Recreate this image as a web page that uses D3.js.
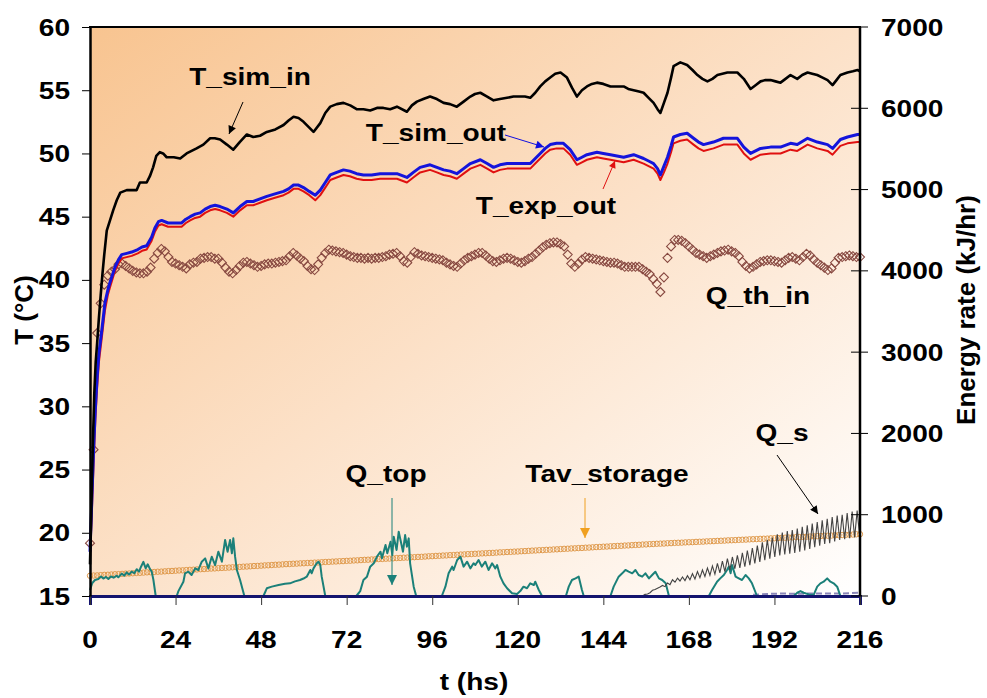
<!DOCTYPE html>
<html>
<head>
<meta charset="utf-8">
<script src="https://cdn.jsdelivr.net/npm/d3@7"></script>
<style>
  html, body { margin: 0; padding: 0; background: #ffffff; }
  svg { display: block; }
  text { font-family: "Liberation Sans", Arial, sans-serif; font-weight: bold; fill: #000; }
</style>
</head>
<body>
<svg id="chart" width="987" height="698"></svg>
<script>
// ---------- data ----------
const xTicks = [0, 24, 48, 72, 96, 120, 144, 168, 192, 216];
const leftTicks = [15, 20, 25, 30, 35, 40, 45, 50, 55, 60];
const rightTicks = [0, 1000, 2000, 3000, 4000, 5000, 6000, 7000];

// T_sim_in (°C) : [t (h), T]
const tSimIn = [
  [0,17.5],[0.4,22],[0.8,27],[1.2,31],[1.6,33.5],[2,35],[2.5,37],[3,38.8],[3.5,40.5],[4,42],[4.7,43.9],
  [5.5,44.6],[6.5,45.5],[7.5,46.3],[8.5,46.9],[10.3,47.1],[12,47.1],[13.1,47.1],[14,47.7],[15.9,47.7],
  [16.8,48.2],[17.7,48.9],[18.6,49.8],[19.6,50.1],[20.5,50.0],[21.5,49.7],[23.5,49.7],[25.3,49.6],
  [27.1,50.0],[28.5,50.2],[29.9,50.4],[31.8,50.7],[33.7,51.2],[35,51.2],[36.5,51.1],[38.4,50.7],
  [40.2,50.3],[42,50.9],[44,51.5],[45.8,51.3],[47.7,51.4],[49.6,51.7],[52,51.9],[54.3,52.25],
  [55.7,52.6],[57.1,52.9],[58.5,52.8],[59.9,52.5],[61.3,52.1],[62.7,51.7],[64.6,52.4],[66,53.2],
  [67.4,53.7],[69.2,53.9],[71.1,54.0],[73,53.8],[74.8,53.5],[76.7,53.5],[78.6,53.4],[80.5,53.6],
  [82.3,53.6],[84.2,53.5],[86.1,53.7],[88.9,53.3],[90.3,53.8],[91.7,54.1],[93.5,54.3],[95.4,54.5],
  [97.3,54.3],[99.2,54.0],[101,53.9],[102.9,53.7],[104.8,54.1],[106.7,54.5],[108,54.7],[109.5,54.8],
  [111.4,54.5],[113.2,54.2],[115,54.3],[117,54.4],[118.8,54.5],[120.7,54.5],[122,54.5],[123.5,54.4],
  [124.9,54.8],[126.3,55.3],[127.7,55.7],[129.1,56.0],[130.5,56.3],[132,56.4],[133.8,56.0],[135.2,55.2],
  [136.6,54.5],[138,55.0],[139.4,55.3],[140.8,55.5],[142.2,55.6],[144,55.5],[146,55.3],[148,55.3],
  [149.7,55.3],[151,55.1],[152.5,55.0],[154,54.9],[155.3,54.8],[156.7,54.4],[158.1,54.0],[159.2,53.5],
  [160,53.2],[161,54.0],[162,54.8],[163,56.0],[163.7,56.9],[165.6,57.2],[167.5,57.0],[169,56.6],
  [170.4,56.2],[171.8,55.9],[173.2,55.7],[174.6,55.9],[176,56.2],[177.4,56.3],[178.8,56.4],[180.2,56.4],
  [181.6,56.4],[183.4,55.9],[185.3,55.1],[186.7,55.4],[188.1,55.7],[189.5,55.8],[190.9,55.8],[192.3,55.7],
  [193.7,55.6],[195.1,55.9],[196.5,56.2],[198.4,55.9],[199.8,56.2],[201.3,56.4],[202.6,56.3],[204,56.2],
  [205.5,56.0],[206.9,55.8],[208.3,55.4],[209.4,55.8],[210.5,56.2],[211.5,56.3],[212.5,56.4],[214,56.5],
  [215.3,56.6],[216,56.5]
];

// common time base for the outlet temperatures (h)
const tOutTimes = [
  0,0.5,1,1.5,2,2.5,3.3,4.2,5,5.6,7,8,8.9,10.3,11.7,13.4,14.6,15.9,17.3,18.2,19.2,20.1,21.9,23.8,25.7,
  26.9,28.1,29.5,30.9,32.3,33.7,35.1,36.5,38.4,40.2,42.1,44,45.8,47.7,49.6,51.9,54.3,55.7,57.1,58.5,
  59.9,61.5,63.2,64.6,66,67.4,69.2,71.1,72.9,74.8,76.7,79,81.4,83.7,86.1,88.9,90.7,92.6,95.4,97.3,
  99.2,101,102.9,104.8,106.7,109.5,111.4,113.2,115,117,118.8,120.7,123.5,124.9,126.3,127.7,129.1,
  130.9,132.8,134.7,136.6,138,139.4,142.2,144,146,149.7,152.5,155.3,156.7,158.1,159.2,160,161,162,
  163,163.7,165.6,167.5,169.3,170.7,172.1,174.9,177.7,181.6,183.4,185.3,188.1,190.9,193.7,196.5,
  198.4,201.3,204,206.9,208.3,210.5,212.5,215.3,216
];
// T_sim_out (°C)
const tSimOut = [
  18.5,22.5,26.5,29.8,32.3,34.2,36.0,38.2,39.2,39.8,41.0,41.6,42.0,42.1,42.2,42.4,42.6,42.7,43.4,44.1,
  44.6,44.7,44.5,44.5,44.5,44.8,45.0,45.2,45.3,45.6,45.8,45.9,45.8,45.6,45.3,45.8,46.2,46.2,46.4,46.6,
  46.8,47.0,47.2,47.5,47.5,47.3,47.0,46.7,47.1,47.7,48.3,48.5,48.7,48.6,48.4,48.3,48.3,48.4,48.4,48.4,
  48.1,48.5,48.9,49.1,48.9,48.7,48.6,48.4,48.8,49.2,49.5,49.2,48.9,49.1,49.2,49.2,49.2,49.2,49.6,50.0,
  50.4,50.7,50.8,50.8,50.3,49.5,49.7,49.9,50.1,50.0,49.9,49.7,49.9,49.6,49.4,49.2,48.8,48.3,49.0,49.7,
  50.6,51.3,51.5,51.6,51.2,50.9,50.7,50.9,51.2,51.2,50.5,50.0,50.4,50.5,50.5,50.8,50.7,51.2,50.9,50.7,
  50.4,51.1,51.3,51.5,51.5
];
// T_exp_out (°C)
const tExpOut = [
  18.0,21.5,25.5,29.0,31.5,33.5,35.4,37.6,38.8,39.4,40.7,41.3,41.7,41.8,41.9,42.1,42.3,42.4,43.1,43.8,
  44.3,44.4,44.2,44.2,44.2,44.5,44.7,44.9,45.0,45.3,45.5,45.6,45.5,45.3,45.0,45.5,45.9,45.9,46.1,46.3,
  46.5,46.7,46.9,47.2,47.2,47.0,46.7,46.3,46.7,47.3,47.9,48.1,48.3,48.2,48.0,47.9,47.9,48.0,48.0,48.0,
  47.7,48.1,48.5,48.7,48.5,48.3,48.2,48.0,48.4,48.8,49.1,48.8,48.5,48.7,48.8,48.8,48.8,48.8,49.2,49.6,
  50.0,50.3,50.4,50.4,49.9,49.1,49.3,49.5,49.7,49.6,49.5,49.3,49.5,49.2,49.0,48.8,48.4,47.9,48.5,49.2,
  50.1,50.8,51.0,51.1,50.7,50.4,50.2,50.4,50.7,50.7,50.0,49.5,49.9,50.0,50.0,50.3,50.2,50.7,50.4,50.2,
  49.9,50.6,50.8,50.9,50.9
];

// Q_th_in (kJ/hr), hourly from t = 0 h
const qThIn = [
  650,1800,3235,3600,3830,3940,3990,4020,4080,4090,4060,4030,
  4000,3980,3970,3970,3990,4040,4150,4220,4270,4240,4170,4110,
  4090,4070,4050,4030,4080,4100,4110,4150,4160,4170,4170,4150,
  4150,4100,4040,3990,3970,4010,4060,4100,4110,4090,4070,4050,
  4060,4080,4090,4090,4100,4110,4120,4130,4180,4220,4190,4150,
  4120,4060,4020,4010,4080,4160,4220,4260,4250,4240,4230,4220,
  4200,4180,4170,4160,4160,4150,4160,4150,4160,4160,4170,4180,
  4200,4210,4220,4180,4120,4100,4170,4230,4210,4190,4180,4170,
  4160,4150,4140,4130,4100,4080,4060,4050,4090,4130,4160,4180,
  4200,4220,4220,4190,4150,4120,4110,4130,4150,4160,4150,4130,
  4110,4100,4120,4150,4170,4210,4250,4290,4320,4340,4350,4350,
  4330,4300,4200,4090,4050,4090,4140,4170,4160,4150,4140,4130,
  4120,4110,4100,4100,4090,4070,4050,4050,4050,4050,4050,4020,
  3990,3960,3900,3840,3740,3920,4160,4300,4380,4380,4370,4340,
  4300,4260,4220,4200,4180,4160,4180,4200,4220,4240,4250,4260,
  4240,4220,4180,4110,4060,4030,4050,4080,4110,4120,4130,4130,
  4120,4110,4100,4130,4160,4170,4150,4130,4170,4210,4190,4140,
  4100,4070,4040,4010,4030,4100,4160,4170,4180,4190,4180,4170,
  4170
];

// Tav_storage (°C), hourly from t = 0 h
const tavStorage = [
  16.60,16.62,16.63,16.65,16.67,16.68,16.70,16.72,16.73,16.75,16.77,16.78,
  16.80,16.82,16.83,16.85,16.87,16.88,16.90,16.92,16.93,16.95,16.97,16.98,
  17.00,17.02,17.03,17.05,17.07,17.08,17.10,17.12,17.13,17.15,17.17,17.18,
  17.20,17.22,17.23,17.25,17.27,17.28,17.30,17.32,17.33,17.35,17.37,17.38,
  17.40,17.42,17.43,17.45,17.47,17.48,17.50,17.52,17.53,17.55,17.56,17.58,
  17.59,17.61,17.62,17.64,17.65,17.67,17.69,17.70,17.72,17.73,17.75,17.76,
  17.78,17.79,17.81,17.82,17.84,17.86,17.87,17.89,17.90,17.92,17.93,17.95,
  17.96,17.98,18.00,18.01,18.03,18.04,18.06,18.07,18.09,18.10,18.12,18.14,
  18.15,18.17,18.18,18.20,18.21,18.23,18.24,18.26,18.28,18.29,18.31,18.32,
  18.34,18.35,18.37,18.38,18.40,18.41,18.43,18.45,18.46,18.48,18.49,18.51,
  18.52,18.54,18.55,18.57,18.59,18.60,18.62,18.63,18.65,18.66,18.68,18.69,
  18.71,18.73,18.74,18.76,18.77,18.79,18.80,18.82,18.83,18.85,18.87,18.88,
  18.90,18.91,18.93,18.94,18.96,18.97,18.99,19.00,19.02,19.04,19.05,19.07,
  19.08,19.10,19.11,19.13,19.14,19.15,19.17,19.18,19.20,19.21,19.22,19.24,
  19.25,19.26,19.28,19.29,19.30,19.32,19.33,19.34,19.36,19.37,19.38,19.40,
  19.41,19.42,19.44,19.45,19.46,19.48,19.49,19.50,19.52,19.53,19.54,19.56,
  19.57,19.58,19.60,19.61,19.62,19.64,19.65,19.66,19.68,19.69,19.70,19.72,
  19.73,19.74,19.76,19.77,19.78,19.80,19.81,19.82,19.84,19.85,19.86,19.88,
  19.89
];

// Q_top (kJ/hr) : [t (h), Q]
const qTop = [
  [0,74],[0.65,160],[1.4,197],[2.34,210],[3.09,240],[3.74,215],[4.49,235],[5.15,210],[5.89,240],[6.64,225],
  [7.49,250],[7.95,230],[8.89,275],[9.64,250],[10.29,290],[10.95,265],[11.7,300],[12.44,280],[13.1,330],
  [13.75,300],[14.32,360],[14.97,420],[15.63,340],[16.19,390],[16.84,330],[17.31,300],[17.78,200],[18.43,0],
  [24.33,0],[24.8,60],[26.2,176],[26.67,279],[27.6,299],[28.5,258],[29.5,340],[30.4,320],[31.35,422],
  [32.3,463],[33.2,340],[34.15,484],[35.1,381],[36.0,545],[37.0,422],[37.9,689],[38.6,545],[39.3,689],
  [39.8,525],[40.2,709],[40.7,484],[41.2,320],[42.1,197],[43.3,0],
  [48.65,0],[49.6,95],[51.0,115],[52.9,135],[54.7,150],[56.1,156],[57.5,180],[58.9,197],[59.9,215],
  [60.8,238],[61.8,320],[62.2,280],[62.7,340],[63.6,402],[64.1,422],[64.6,381],[65.0,238],[66.0,0],
  [74.7,0],[75.8,60],[76.7,197],[77.7,238],[78.6,361],[79.6,402],[80.5,484],[81.5,545],[81.9,463],
  [82.9,627],[83.4,525],[84.3,668],[84.8,505],[85.2,730],[86.0,566],[86.6,791],[87.1,689],[87.8,545],
  [88.4,750],[88.9,607],[89.4,709],[89.8,402],[90.8,115],[91.5,0],
  [98.7,0],[99.7,115],[100.6,279],[101.6,361],[102.0,320],[103.0,443],[103.9,484],[104.8,361],[105.8,422],
  [106.7,340],[107.6,402],[108.1,381],[109.0,443],[109.9,361],[110.9,422],[111.8,320],[112.8,402],
  [113.7,340],[114.2,381],[115.1,238],[116.0,156],[117.0,95],[118.4,33],[119.8,25],[120.7,60],[121.6,115],
  [122.6,95],[123.5,156],[124.5,135],[124.9,176],[125.9,74],[126.8,0],
  [133.5,0],[134.3,115],[135.2,197],[136.2,217],[137.1,238],[138.0,74],[138.5,0],
  [146.0,0],[146.9,115],[148.3,238],[149.3,279],[150.2,320],[151.1,299],[152.1,279],[153.0,320],[153.9,258],
  [154.9,238],[155.8,279],[156.8,217],[157.7,258],[158.6,299],[159.6,217],[160.5,197],[161.5,156],[162.4,0],
  [173.6,0],[174.5,74],[175.9,176],[176.8,217],[177.8,258],[178.7,320],[179.2,361],[179.7,279],[180.1,381],
  [181.1,238],[182.0,217],[182.9,197],[183.9,258],[184.8,217],[185.7,156],[187.1,0],
  [197.4,0],[198.4,40],[199.3,60],[200.2,40],[201.6,20],[203.0,15],[204.0,115],[204.9,156],[205.8,176],
  [206.8,217],[207.7,176],[208.6,156],[209.6,115],[210.5,0],[216,0]
];

// Q_s (kJ/hr), logged every 0.7 h from t = 155 h
const qsStart = 155, qsStep = 0.7;
const qS = [
  0,20,25,40,70,80,95,110,130,115,160,140,200,170,220,185,235,190,250,200,
  275,210,300,225,320,240,345,255,370,270,400,285,430,300,460,320,480,335,500,345,
  530,360,560,380,590,400,620,420,660,440,690,460,720,480,760,500,780,510,800,520,
  810,530,830,545,850,560,870,580,890,600,910,620,930,640,950,650,970,670,990,690,
  1000,700,1020,710,1040,720,1050,740
];

// auxiliary heat rate near zero (kJ/hr) : [t (h), Q]
const qAux = [[186,15],[190,25],[194,30],[198,28],[202,30],[206,32],[210,30],[213,35],[216,40]];

// ---------- layout ----------
const svg = d3.select("#chart");
const L = 90, R = 860, T = 27, B = 596;
const SX = 1.17; // horizontal stretch of the lettering

const x = d3.scaleLinear().domain([0, 216]).range([L, R]);
const yT = d3.scaleLinear().domain([15, 60]).range([B, T]);
const yE = d3.scaleLinear().domain([0, 7000]).range([B, T]);

const defs = svg.append("defs");
const grad = defs.append("linearGradient").attr("id", "bg")
  .attr("x1", 0).attr("y1", 0).attr("x2", 1).attr("y2", 1);
grad.append("stop").attr("offset", 0).attr("stop-color", "#f8c490");
grad.append("stop").attr("offset", 0.5).attr("stop-color", "#fce1c8");
grad.append("stop").attr("offset", 1).attr("stop-color", "#ffffff");

function marker(id, color, len, wid) {
  defs.append("marker").attr("id", id)
    .attr("viewBox", "0 0 10 10").attr("refX", 10).attr("refY", 5)
    .attr("markerUnits", "userSpaceOnUse")
    .attr("markerWidth", len).attr("markerHeight", wid)
    .attr("orient", "auto")
    .append("path").attr("d", "M0,0 L10,5 L0,10 Z").attr("fill", color);
}
marker("arBlack", "#000", 10, 8);
marker("arBlue", "#1010e0", 11, 8);
marker("arRed", "#e01010", 10, 7);
marker("arTeal", "#1b8079", 10, 12);
marker("arOrange", "#f0a020", 10, 11);

// plot background
svg.append("rect").attr("x", L).attr("y", T).attr("width", R - L).attr("height", B - T)
  .attr("fill", "url(#bg)");

const plot = svg.append("g");

// Tav_storage circles
plot.append("g").selectAll("circle").data(tavStorage).join("circle")
  .attr("cx", (d, i) => x(i)).attr("cy", d => yT(d)).attr("r", 2.7)
  .attr("fill", "none").attr("stroke", "#e09a4c").attr("stroke-width", 1);

// auxiliary dashed line
plot.append("path").datum(qAux)
  .attr("d", d3.line().x(d => x(d[0])).y(d => yE(d[1])))
  .attr("fill", "none").attr("stroke", "#8a86b8").attr("stroke-width", 2).attr("stroke-dasharray", "6,3");

// Q_top
plot.append("path").datum(qTop)
  .attr("d", d3.line().x(d => x(d[0])).y(d => yE(d[1])))
  .attr("fill", "none").attr("stroke", "#1b8079").attr("stroke-width", 2).attr("stroke-linejoin", "round");

// Q_s
plot.append("path").datum(qS)
  .attr("d", d3.line().x((d, i) => x(qsStart + i * qsStep)).y(d => yE(d)))
  .attr("fill", "none").attr("stroke", "#444").attr("stroke-width", 1.1);

// Q_th_in diamonds
const dm = 4.5;
plot.append("g").selectAll("path").data(qThIn).join("path")
  .attr("d", (d, i) => {
    const cx = x(i), cy = yE(d);
    return `M${cx},${cy - dm}L${cx + dm},${cy}L${cx},${cy + dm}L${cx - dm},${cy}Z`;
  })
  .attr("fill", "none").attr("stroke", "#874840").attr("stroke-width", 1.1);

// outlet temperatures
const outLine = d3.line().x((d, i) => x(tOutTimes[i])).y(d => yT(d));
plot.append("path").datum(tExpOut).attr("d", outLine)
  .attr("fill", "none").attr("stroke", "#e01010").attr("stroke-width", 2).attr("stroke-linejoin", "round");
plot.append("path").datum(tSimOut).attr("d", outLine)
  .attr("fill", "none").attr("stroke", "#1414dc").attr("stroke-width", 3).attr("stroke-linejoin", "round");

// inlet temperature
plot.append("path").datum(tSimIn)
  .attr("d", d3.line().x(d => x(d[0])).y(d => yT(d[1])))
  .attr("fill", "none").attr("stroke", "#000").attr("stroke-width", 2.6).attr("stroke-linejoin", "round");

// ---------- axes ----------
// bottom axis (drawn as navy base line)
const xAxis = svg.append("g").attr("transform", `translate(0,${B})`)
  .call(d3.axisBottom(x).tickValues(xTicks).tickSize(9).tickFormat(""));
xAxis.select(".domain").attr("stroke", "#14146e").attr("stroke-width", 3);
xAxis.selectAll(".tick line").attr("stroke", "#333").attr("stroke-width", 1);

// left axis
const yAxisL = svg.append("g").attr("transform", `translate(${L},0)`)
  .call(d3.axisLeft(yT).tickValues(leftTicks).tickSize(8).tickSizeOuter(0).tickFormat(""));
yAxisL.select(".domain").attr("stroke", "#000").attr("stroke-width", 2.5);
yAxisL.selectAll(".tick line").attr("stroke", "#000").attr("stroke-width", 1);

// right axis (ticks cross the line)
const yAxisR = svg.append("g").attr("transform", `translate(${R},0)`);
yAxisR.append("line").attr("x1", 0).attr("x2", 0).attr("y1", T).attr("y2", B)
  .attr("stroke", "#000").attr("stroke-width", 2.5);
yAxisR.selectAll("line.tk").data(rightTicks).join("line").attr("class", "tk")
  .attr("x1", -9).attr("x2", 8).attr("y1", d => yE(d)).attr("y2", d => yE(d))
  .attr("stroke", "#000").attr("stroke-width", 1);

// top frame
svg.append("line").attr("x1", L - 1).attr("x2", R + 1).attr("y1", T).attr("y2", T)
  .attr("stroke", "#000").attr("stroke-width", 2);

// ---------- text ----------
function txt(px, py, s, anchor, size, color) {
  svg.append("text")
    .attr("transform", `translate(${px},${py}) scale(${SX},1)`)
    .attr("text-anchor", anchor || "middle")
    .style("font-size", (size || 24) + "px")
    .style("fill", color || "#000")
    .text(s);
}

leftTicks.forEach(v => txt(70, yT(v) + 8.5, v, "end"));
rightTicks.forEach(v => txt(881, yE(v) + 8.5, v, "start"));
xTicks.forEach(v => txt(x(v), 648, v, "middle"));
txt(474, 690, "t (hs)", "middle");

svg.append("text").attr("transform", "translate(33,310) rotate(-90)")
  .attr("text-anchor", "middle").style("font-size", "26px").text("T (°C)");
svg.append("text").attr("transform", "translate(975,310) rotate(-90)")
  .attr("text-anchor", "middle").style("font-size", "26px").text("Energy rate (kJ/hr)");

// series annotations
txt(250, 85, "T_sim_in");
txt(436, 141, "T_sim_out");
txt(546, 214, "T_exp_out");
txt(758, 304, "Q_th_in");
txt(386, 482, "Q_top");
txt(607, 482, "Tav_storage");
txt(782, 441, "Q_s");

function arrow(x1, y1, x2, y2, color, id) {
  svg.append("line").attr("x1", x1).attr("y1", y1).attr("x2", x2).attr("y2", y2)
    .attr("stroke", color).attr("stroke-width", 1).attr("marker-end", `url(#${id})`);
}
arrow(243, 102, 229, 134, "#000", "arBlack");
arrow(505, 135, 544, 147, "#1010e0", "arBlue");
arrow(603, 189, 615, 161, "#e01010", "arRed");
arrow(392, 498, 392, 585, "#1b8079", "arTeal");
arrow(585, 498, 585, 538, "#f0a020", "arOrange");
arrow(777, 455, 818, 514, "#000", "arBlack");
</script>
</body>
</html>
